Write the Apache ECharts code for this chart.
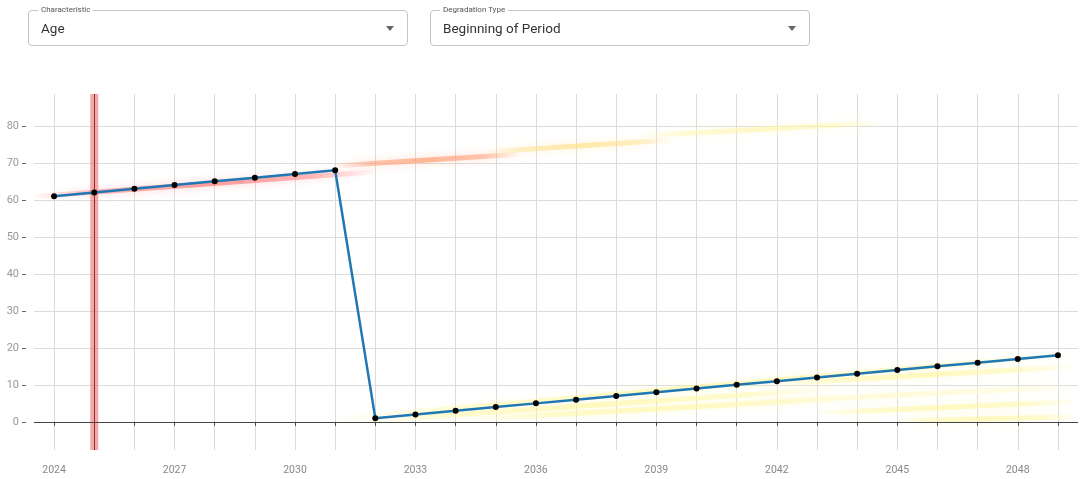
<!DOCTYPE html>
<html>
<head>
<meta charset="utf-8">
<script src="https://cdn.jsdelivr.net/npm/echarts@6/dist/echarts.min.js"></script>
<style>
  html, body { margin:0; padding:0; background:#fff; width:1081px; height:479px; overflow:hidden; font-family: Roboto, "Noto Sans", sans-serif; }
  #chart { position:absolute; left:0; top:0; width:1081px; height:479px; }
  .sel { position:absolute; top:10px; height:36px; border:1px solid #c4c4c4; border-radius:4px; box-sizing:border-box; background:#fff; z-index:2; }
  .sel .lab { position:absolute; top:-6px; left:9px; padding:0 3px; background:#fff; font-size:8px; color:#555; line-height:10px; }
  .sel .val { position:absolute; left:12px; top:9px; font-size:13.5px; color:#333; line-height:17px; }
  .sel .arr { position:absolute; right:13px; top:15px; width:0; height:0; border-left:4.5px solid transparent; border-right:4.5px solid transparent; border-top:5px solid #666; }
</style>
</head>
<body>
<div id="chart"></div>
<div class="sel" style="left:28px;width:380px;"><span class="lab">Characteristic</span><span class="val">Age</span><span class="arr"></span></div>
<div class="sel" style="left:430px;width:380px;"><span class="lab">Degradation Type</span><span class="val">Beginning of Period</span><span class="arr"></span></div>
<script>
// ---- data ----
const years = [2024,2025,2026,2027,2028,2029,2030,2031,2032,2033,2034,2035,2036,2037,2038,2039,2040,2041,2042,2043,2044,2045,2046,2047,2048,2049];
const ages  = [61,62,63,64,65,66,67,68,1,2,3,4,5,6,7,8,9,10,11,12,13,14,15,16,17,18];
const xLabelYears = [2024,2027,2030,2033,2036,2039,2042,2045,2048];
const yTicks = [0,10,20,30,40,50,60,70,80];
const currentYear = 2025;
// blurred projection segments: [startYear, startValue, endYear, endValue, colour]
const glowStartYears = [2023.5,2031.0,2034.8,2038.6,2031.0,2031.6,2034.5,2042.0,2040.5,2043.0,2045.0];
const glowStartVals  = [60.9, 69.2, 73.0, 77.3, 0.8, 0.2, 0.8, 10.3, 4.8, 2.4, 0.3];
const glowEndYears   = [2032.0,2035.6,2039.4,2044.6,2049.5,2043.5,2044.0,2049.5,2049.5,2049.5,2049.5];
const glowEndVals    = [67.6, 72.3, 76.2, 80.8, 18.5, 9.0, 6.5, 15.0, 9.6, 5.5, 1.4];
const glowColors     = ['#ff7878','#ff9a70','#ffe08a','#fff6b0','#fff7a8','#fff7a8','#fff7a8','#fff7a8','#fffacc','#fff7a8','#fff7a8'];

const chart = echarts.init(document.getElementById('chart'));

function fade(c){
  return {type:'linear', x:0, y:0, x2:1, y2:0, colorStops:[
    {offset:0, color:c+'00'}, {offset:0.2, color:c+'99'}, {offset:0.5, color:c+'cc'}, {offset:0.8, color:c+'99'}, {offset:1, color:c+'00'}]};
}
const glowData = glowStartYears.map((y,i)=>({
  coords:[[y, glowStartVals[i]],[glowEndYears[i], glowEndVals[i]]],
  lineStyle:{color: fade(glowColors[i]), width:5, shadowBlur:8, shadowColor: glowColors[i]+'88', opacity:0.85}
}));

const option = {
  animation:false,
  grid:{left:34, right:3, top:94, bottom:29, containLabel:false},
  xAxis:{
    type:'value', min:2023.5, max:2049.5, offset:8,
    axisLine:{show:false},
    axisTick:{show:true, length:4, customValues: years, lineStyle:{color:'#444'}},
    axisLabel:{customValues: xLabelYears, color:'#888', fontSize:10.5, margin:7, formatter: v=>String(v), fontFamily:'Roboto'},
    splitLine:{show:true, customValues: years, lineStyle:{color:'#dcdcdc', width:1}}
  },
  yAxis:{
    type:'value', min:-7.6, max:88.6, offset:8,
    axisLine:{show:false},
    axisTick:{show:true, length:4, customValues: yTicks, lineStyle:{color:'#666'}},
    axisLabel:{customValues: yTicks, color:'#999', fontSize:11, margin:7, fontFamily:'Roboto', verticalAlign:'middle'},
    splitLine:{show:true, customValues: yTicks, lineStyle:{color:'#dcdcdc', width:1}}
  },
  series:[
    {
      type:'lines', coordinateSystem:'cartesian2d', polyline:false, z:2,
      data: glowData, silent:true
    },
    {
      type:'line', z:5, data: years.map((y,i)=>[y, ages[i]]),
      lineStyle:{color:'#1f77b4', width:2.5},
      symbol:'circle', symbolSize:6, showSymbol:true,
      itemStyle:{color:'#000', borderWidth:0},
      markLine:{
        silent:true, symbol:'none', label:{show:false},
        data:[
          {yAxis:0, lineStyle:{color:'#444', width:1, type:'solid'}},
          {xAxis:currentYear, lineStyle:{color:'#8a2f2f', width:1, type:'solid'}}
        ]
      },
      markArea:{
        silent:true,
        itemStyle:{color:'rgba(240,110,110,0.6)'},
        data:[[{xAxis:currentYear-0.1},{xAxis:currentYear+0.1}]]
      }
    }
  ]
};
chart.setOption(option);
</script>
</body>
</html>
